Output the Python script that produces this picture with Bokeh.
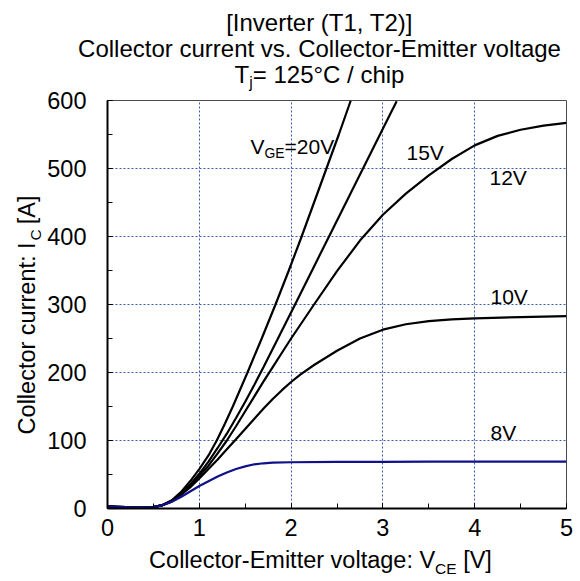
import math
from bokeh.plotting import figure
from bokeh.models import Range1d, Label, SingleIntervalTicker
from bokeh.layouts import column, row
from bokeh.embed import file_html
from bokeh.resources import INLINE

# ---------------- data ----------------
v_20 = [0, 0.1, 0.2, 0.3, 0.4, 0.5, 0.6, 0.7, 0.8, 0.9, 1.0, 1.1, 1.19, 1.28, 1.365, 1.445, 1.525, 1.68, 1.83, 1.975, 2.115, 2.25, 2.385, 2.52, 2.65]
i_20 = [3, 2.5, 2, 1.5, 1.5, 2, 5, 12, 24, 40, 58, 78, 100, 125, 150, 175, 200, 250, 300, 350, 400, 450, 500, 550, 600]

v_15 = [0, 0.1, 0.2, 0.3, 0.4, 0.5, 0.6, 0.7, 0.8, 0.9, 1.0, 1.1, 1.2, 1.3, 1.4, 1.5, 1.6, 1.7, 1.85, 2.05, 2.25, 2.45, 2.65, 2.85, 3.05, 3.15]
i_15 = [3, 2.5, 2, 1.5, 1.5, 2, 5, 11, 22, 35, 51, 69, 89, 110, 133, 157, 182, 208, 248, 302, 356, 410, 464, 518, 572, 599]

v_12 = [0, 0.1, 0.2, 0.3, 0.4, 0.5, 0.6, 0.7, 0.8, 0.9, 1.0, 1.1, 1.2, 1.3, 1.4, 1.5, 1.6, 1.7, 1.8, 1.9, 2.0, 2.25, 2.5, 2.75, 3.0, 3.25, 3.5, 3.75, 4.0, 4.25, 4.5, 4.75, 5.0]
i_12 = [3, 2.5, 2, 1.5, 1.5, 2, 5, 11, 21, 34, 48, 63, 81, 100, 121, 143, 165, 187, 208, 229, 250, 300, 349, 394, 432, 463, 490, 514, 534, 548, 557, 563, 567]

v_10 = [0, 0.1, 0.2, 0.3, 0.4, 0.5, 0.6, 0.7, 0.8, 0.9, 1.0, 1.1, 1.2, 1.3, 1.4, 1.5, 1.6, 1.7, 1.8, 1.9, 2.0, 2.1, 2.25, 2.5, 2.75, 3.0, 3.25, 3.5, 3.75, 4.0, 4.5, 5.0]
i_10 = [3, 2.5, 2, 1.5, 1.5, 2, 5, 10, 20, 31, 44, 58, 72, 87, 102, 117, 132, 147, 161, 174, 186, 197, 211, 232, 250, 263, 271, 275.5, 278, 279.5, 281.5, 283]

v_8 = [0, 0.1, 0.2, 0.3, 0.4, 0.5, 0.6, 0.7, 0.8, 0.9, 1.0, 1.1, 1.2, 1.3, 1.4, 1.5, 1.6, 1.7, 1.8, 2.0, 2.5, 3.0, 3.5, 4.0, 4.5, 5.0]
i_8 = [3, 2.5, 2, 1.5, 1.5, 2, 5, 10, 17, 25, 33, 40, 47, 53, 58, 62, 65, 66.5, 67.5, 68, 68.5, 68.5, 69, 69, 69, 69]

x_ticks = [0, 1, 2, 3, 4, 5]
y_ticks = [0, 100, 200, 300, 400, 500, 600]

# ---------------- layout geometry (page pixels) ----------------
W, H = 580, 581
L, R, T, B = 107, 566, 100, 508          # plot frame on the page
TOP_H = 91                                # title strip height
LEFT_W = 44                               # y-label strip width
MAIN_TOP = T - TOP_H                      # main figure's top border
MAIN_BOT = 37                             # main figure's bottom border
MAIN_H = MAIN_TOP + (B - T) + MAIN_BOT
BOT_H = H - TOP_H - MAIN_H
FONT = "Liberation Sans"
FS = 23.5                                 # tick / axis-label size
BASE_FIX = 0.3                            # alphabetic-baseline correction (em)

p = figure(width=W - LEFT_W, height=MAIN_H, output_backend="svg", toolbar_location=None,
           x_range=Range1d(0, 5), y_range=Range1d(0, 600), title=None,
           min_border_left=L - LEFT_W, min_border_right=W - R,
           min_border_top=MAIN_TOP, min_border_bottom=MAIN_BOT,
           background_fill_color="white", border_fill_color="white")

p.outline_line_color = "#4a4a5a"
p.outline_line_width = 1

for ax, step in ((p.xaxis[0], 1), (p.yaxis[0], 100)):
    ax.ticker = SingleIntervalTicker(interval=step, num_minor_ticks=2)
    ax.axis_line_color = "black"
    ax.axis_line_width = 2
    ax.major_tick_in = 5
    ax.major_tick_out = 0
    ax.minor_tick_in = 5
    ax.minor_tick_out = 0
    ax.major_tick_line_color = "black"
    ax.minor_tick_line_color = "black"
    ax.major_label_text_font = FONT
    ax.major_label_text_font_size = f"{FS}px"
    ax.major_label_text_color = "black"
p.xaxis.major_label_standoff = 10
p.yaxis.major_label_standoff = 21

p.grid.grid_line_color = "#3a5db0"
p.grid.grid_line_dash = "2 2"
p.grid.grid_line_width = 1

for vx, iy in ((v_20, i_20), (v_15, i_15), (v_12, i_12), (v_10, i_10)):
    p.line(vx, iy, line_color="black", line_width=2.2)
p.line(v_8, i_8, line_color="#10108a", line_width=2.2)


def aux(w, h):
    f = figure(width=w, height=h, output_backend="svg", toolbar_location=None,
               x_range=Range1d(0, w), y_range=Range1d(0, h), title=None,
               x_axis_type=None, y_axis_type=None, min_border=0,
               background_fill_color="white", border_fill_color="white")
    f.outline_line_color = None
    return f


top = aux(W, TOP_H)
left = aux(LEFT_W, MAIN_H)
bot = aux(W, BOT_H)

# ---------------- text helpers ----------------
AW = {' ': 278, '(': 333, ')': 333, ',': 278, '-': 333, '.': 278, '/': 278, ':': 278,
      '=': 584, '[': 278, ']': 278, '\u00b0': 400,
      'A': 667, 'C': 722, 'E': 667, 'G': 778, 'I': 278, 'T': 611, 'V': 667,
      'a': 556, 'b': 556, 'c': 500, 'd': 556, 'e': 556, 'f': 278, 'g': 556, 'h': 556,
      'i': 222, 'j': 222, 'k': 500, 'l': 222, 'm': 833, 'n': 556, 'o': 556, 'p': 556,
      'r': 333, 's': 500, 't': 278, 'u': 556, 'v': 500, 'w': 722, 'x': 500, 'y': 500}


def tw(s, size):
    return sum(AW.get(c, 556) for c in s) * size / 1000.0


SUB = 0.66


def pieces(parts, size):
    """-> list of (text_without_leading_space, size, baseline_offset, lead_advance, width)"""
    out = []
    for s, sub in parts:
        sz = size * SUB if sub else size
        off = 0.22 * size if sub else 0.0
        stripped = s.lstrip(" ")
        lead = tw(s[:len(s) - len(stripped)], sz)
        out.append((stripped, sz, off, lead, tw(stripped, sz)))
    return out


def lab(fig, x, y, s, size, angle=0.0, align="left", baseline="alphabetic"):
    fig.add_layout(Label(x=x, y=y, text=s, text_font=FONT,
                         text_font_size=f"{size:.1f}px", text_color="black",
                         text_align=align, text_baseline=baseline, angle=angle))


def rich(fig, x, y_down, parts, size, center=True):
    """horizontal text; y_down = wanted baseline measured from the strip's top"""
    ps = pieces(parts, size)
    total = sum(lead + w for _, _, _, lead, w in ps)
    pos = -total / 2 if center else 0.0
    for s, sz, off, lead, w in ps:
        pos += lead
        yb = y_down + off - BASE_FIX * sz
        lab(fig, x + pos, fig.height - yb, s, sz)
        pos += w


def rich_vertical(fig, xb, yc_down, parts, size, shifts, gap=1.5):
    """text reading bottom-to-top; xb = baseline x, yc_down = centre"""
    ps = pieces(parts, size)
    total = sum(lead + w for _, _, _, lead, w in ps) + gap * (len(ps) - 1)
    start = yc_down + total / 2
    pos = 0.0
    for (s, sz, off, lead, w), sh in zip(ps, shifts):
        pos += lead
        cx = xb + off - 0.35 * sz
        cy = start - (pos + w / 2) + sh
        lab(fig, cx, fig.height - cy, s, sz, angle=math.pi / 2, align="center", baseline="middle")
        pos += w + gap


# titles (top strip: page y == local y)
TC = 319
rich(top, TC, 29, [("[Inverter (T1, T2)]", False)], 24)
rich(top, TC, 55, [("Collector current vs. Collector-Emitter voltage", False)], 24)
rich(top, TC, 81, [("T", False), ("j", True), ("= 125\u00b0C / chip", False)], 24)

# x-axis label (bottom strip)
rich(bot, 320, 567 - (TOP_H + MAIN_H), [("Collector-Emitter voltage: V", False), ("CE", True), (" [V]", False)], FS)

# y-axis label (left strip)
rich_vertical(left, 35, 319 - TOP_H, [("Collector current: I", False), ("C", True), (" [A]", False)], FS,
              shifts=[12, 0, 0])


# curve labels inside the plot (page pixels -> data)
def dx(px):
    return (px - L) / (R - L) * 5


def dy(py):
    return (B - py) / (B - T) * 600


def rich_main(px, py, parts, size):
    pos = 0.0
    for s, sz, off, lead, w in pieces(parts, size):
        pos += lead
        lab(p, dx(px + pos), dy(py + off - BASE_FIX * sz), s, sz)
        pos += w


rich_main(250, 152, [("V", False), ("GE", True), ("=20V", False)], 21)
rich_main(406, 158, [("15V", False)], 21)
rich_main(489, 183, [("12V", False)], 21)
rich_main(490, 302, [("10V", False)], 21)
rich_main(490, 438, [("8V", False)], 21)

layout = column(top, row(left, p, spacing=0), bot, spacing=0)
open("out.html", "w").write(file_html(layout, INLINE))
